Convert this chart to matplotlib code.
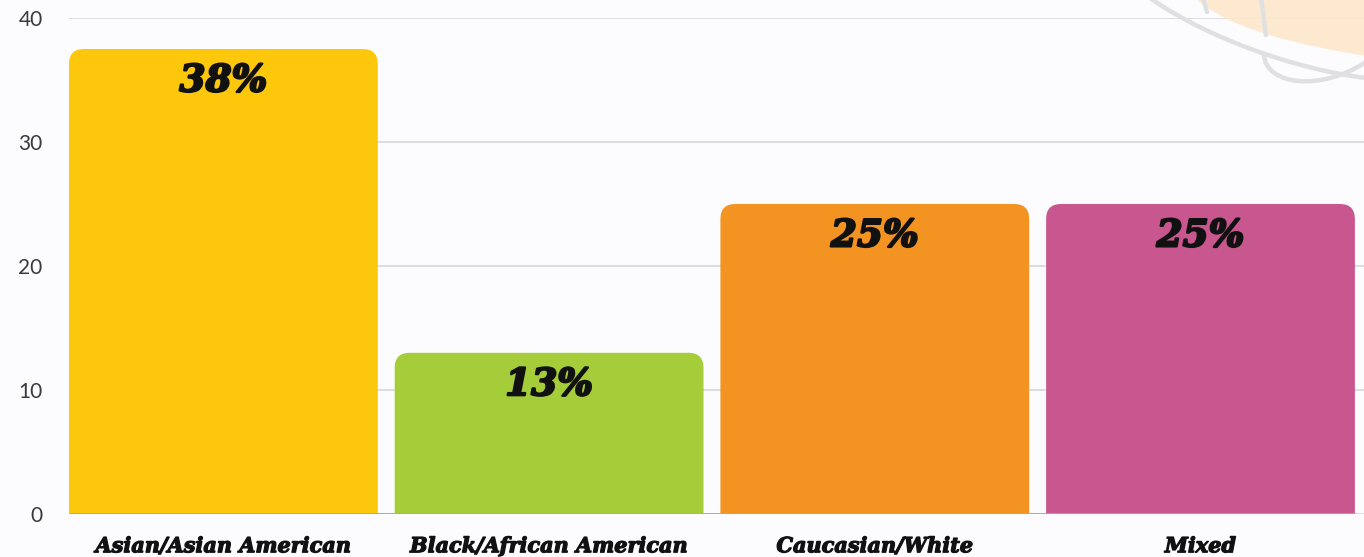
import matplotlib.pyplot as plt
import matplotlib.patheffects as pe
from matplotlib.path import Path
from matplotlib.patches import PathPatch

# Data
categories = ['Asian/Asian American', 'Black/African American', 'Caucasian/White', 'Mixed']
values = [37.5, 13, 25, 25]
value_labels = ['38%', '13%', '25%', '25%']
colors = ['#fdc70c', '#a5cd39', '#f39322', '#c8578f']
yticks = [0, 10, 20, 30, 40]

W, H = 1364, 557
fig = plt.figure(figsize=(W / 100, H / 100), dpi=100)
fig.patch.set_facecolor('#fcfbfd')


def fig_path(pts, codes):
    # pixel coords (from top-left) -> figure fraction
    return Path([(px / W, 1 - py / H) for px, py in pts], codes)


C4 = Path.CURVE4
# decorative swirl in the top right corner
blob = fig_path([(1195, -2), (1230, 30), (1300, 45), (1366, 56), (1366, -2), (1195, -2)],
                [Path.MOVETO, C4, C4, C4, Path.LINETO, Path.CLOSEPOLY])
fig.patches.append(PathPatch(blob, transform=fig.transFigure, facecolor='#fde6c8',
                             edgecolor='none', alpha=0.85, zorder=0))
strokes = [
    ([(1150, -2), (1210, 40), (1300, 70), (1366, 78)], [Path.MOVETO, C4, C4, C4]),
    ([(1264, 55), (1266, 85), (1320, 92), (1366, 62)], [Path.MOVETO, C4, C4, C4]),
    ([(1261, -2), (1266, 35)], [Path.MOVETO, Path.LINETO]),
    ([(1203, -2), (1207, 12)], [Path.MOVETO, Path.LINETO]),
]
for pts, codes in strokes:
    fig.patches.append(PathPatch(fig_path(pts, codes), transform=fig.transFigure,
                                 facecolor='none', edgecolor='#e0e0e0', lw=3.2,
                                 capstyle='round', zorder=0))

ax = fig.add_axes([69 / W, 43 / H, 1 - 69 / W, (514 - 18) / H])
ax.set_facecolor('none')

x = list(range(len(categories)))
width = 0.948
bars = ax.bar(x, values, width=width, color=colors, zorder=2)

ax.set_xlim(-width / 2, len(categories) - 1 + width / 2 + 0.028)
ax.set_ylim(0, 40)

# replace square tops with rounded ones
fig.canvas.draw()
px_x = ax.transData.transform((1, 0))[0] - ax.transData.transform((0, 0))[0]
px_y = ax.transData.transform((0, 1))[1] - ax.transData.transform((0, 0))[1]
r = 15
rx, ry = r / px_x, r / px_y
for b in bars:
    x0, w, h = b.get_x(), b.get_width(), b.get_height()
    x1 = x0 + w
    verts = [(x0, 0), (x0, h - ry), (x0, h), (x0 + rx, h), (x1 - rx, h),
             (x1, h), (x1, h - ry), (x1, 0), (x0, 0)]
    codes = [Path.MOVETO, Path.LINETO, Path.CURVE3, Path.CURVE3, Path.LINETO,
             Path.CURVE3, Path.CURVE3, Path.LINETO, Path.CLOSEPOLY]
    ax.add_patch(PathPatch(Path(verts, codes), facecolor=b.get_facecolor(),
                           edgecolor='none', zorder=2))
    b.set_visible(False)

heavy = [pe.withStroke(linewidth=1.6, foreground='#111111')]
for xi, v, lab in zip(x, values, value_labels):
    ax.annotate(lab, (xi, v), xytext=(0, -23), textcoords='offset points',
                ha='center', va='center', fontsize=27, fontweight='bold',
                fontstyle='italic', family='DejaVu Serif', color='#111111',
                path_effects=heavy, zorder=3)

ax.set_yticks(yticks)
ax.set_yticklabels([str(t) for t in yticks], fontsize=15, color='#3a3a3a',
                   family='Lato')
ax.set_xticks(x)
ax.set_xticklabels(categories, fontsize=15, fontweight='bold', fontstyle='italic',
                   family='DejaVu Serif', color='#111111')
for t in ax.get_xticklabels():
    t.set_path_effects([pe.withStroke(linewidth=0.9, foreground='#111111')])
ax.tick_params(axis='y', length=0, pad=19)
ax.tick_params(axis='x', length=0, pad=16)

ax.grid(axis='y', color='#d9d9d9', lw=1.2, zorder=0)
ax.hlines(0, -width / 2, len(categories) - 1 + width / 2, color='#a8a8a8', lw=2, zorder=3)
for s in ax.spines.values():
    s.set_visible(False)

fig.savefig('out.png', dpi=100, facecolor=fig.get_facecolor())
